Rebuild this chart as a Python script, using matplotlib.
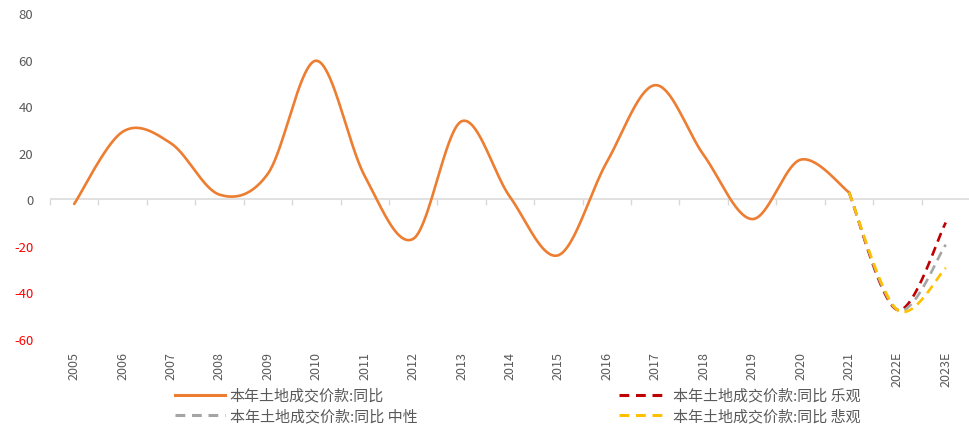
import numpy as np
import matplotlib
matplotlib.use("Agg")
import matplotlib.pyplot as plt
from matplotlib.lines import Line2D

plt.rcParams['font.family'] = ['Noto Sans CJK SC', 'DejaVu Sans']

years = ['2005', '2006', '2007', '2008', '2009', '2010', '2011', '2012', '2013',
         '2014', '2015', '2016', '2017', '2018', '2019', '2020', '2021', '2022E', '2023E']
actual = [-2, 29, 24, 2, 11, 59.5, 10, -17, 33.5, 1, -24, 16, 49, 19, -8.5, 17, 3]
scen_years = ['2021', '2022E', '2023E']
optimistic = [3, -47.5, -10]
neutral = [3, -47.5, -19.5]
pessimistic = [3, -47.5, -29.5]

names = ['本年土地成交价款:同比', '本年土地成交价款:同比 乐观',
         '本年土地成交价款:同比 中性', '本年土地成交价款:同比 悲观']
c_orange, c_red, c_gray, c_yellow = '#ED7D31', '#C00000', '#A5A5A5', '#FFC000'


def smooth(xs, ys, n=40, t=1/6):
    xs = np.asarray(xs, float); ys = np.asarray(ys, float)
    P = np.column_stack([xs, ys])
    out = []
    for i in range(len(P) - 1):
        p0 = P[i - 1] if i > 0 else P[i]
        p1 = P[i]; p2 = P[i + 1]
        p3 = P[i + 2] if i + 2 < len(P) else P[i + 1]
        c1 = p1 + (p2 - p0) * t
        c2 = p2 - (p3 - p1) * t
        s = np.linspace(0, 1, n)[:, None]
        seg = (1 - s) ** 3 * p1 + 3 * (1 - s) ** 2 * s * c1 + 3 * (1 - s) * s ** 2 * c2 + s ** 3 * p2
        out.append(seg if i == 0 else seg[1:])
    a = np.vstack(out)
    return a[:, 0], a[:, 1]


fig = plt.figure(figsize=(9.70, 4.27), dpi=100)
ax = fig.add_axes([50 / 970, 1 - 340 / 427, 920 / 970, (340 - 14) / 427])

xi = np.arange(len(years))
pos = {y: i for i, y in enumerate(years)}

lw = 1.9
sx, sy = smooth(xi[:len(actual)], actual)
ax.plot(sx, sy, color=c_orange, lw=lw, solid_capstyle='round', zorder=3)

sxi = [pos[y] for y in scen_years]
for vals, col in [(optimistic, c_red), (neutral, c_gray), (pessimistic, c_yellow)]:
    px, py = smooth(sxi, vals)
    ax.plot(px, py, color=col, lw=lw, dashes=(3.5, 2.2), zorder=4)

ax.set_xlim(-0.5, len(years) - 0.5)
ax.set_ylim(-60, 80)
ax.set_yticks(np.arange(-60, 81, 20))
ax.set_yticklabels([str(v) for v in np.arange(-60, 81, 20)])
for lab, v in zip(ax.get_yticklabels(), np.arange(-60, 81, 20)):
    lab.set_color('#FF0000' if v < 0 else '#595959')
ax.tick_params(axis='y', length=0, pad=12, labelsize=9.5)

ax.set_xticks(xi)
ax.set_xticklabels(years, rotation=90, color='#595959', fontsize=9)
ax.tick_params(axis='x', length=0, pad=8.5)

for s in ax.spines.values():
    s.set_visible(False)

ax.axhline(0, color='#D9D9D9', lw=1.1, zorder=1)
sec = ax.secondary_xaxis(60 / 140)
sec.set_xticks(np.arange(-0.5, len(years), 1.0))
sec.tick_params(axis='x', length=4, width=1, color='#D9D9D9', labelbottom=False, labeltop=False)
sec.spines['bottom'].set_visible(False)
sec.spines['top'].set_visible(False)

handles = [
    Line2D([], [], color=c_orange, lw=2.2),
    Line2D([], [], color=c_gray, lw=2.2, dashes=(3.2, 2.2)),
    Line2D([], [], color=c_red, lw=2.2, dashes=(3.2, 2.2)),
    Line2D([], [], color=c_yellow, lw=2.2, dashes=(3.2, 2.2)),
]
labels = [names[0], names[2], names[1], names[3]]
leg = fig.legend(handles, labels, ncol=2, loc='upper left',
                 bbox_to_anchor=(175 / 970, 1 - 389 / 427), frameon=False,
                 borderpad=0, borderaxespad=0, handlelength=3.33, handletextpad=0.33,
                 columnspacing=13.4, labelspacing=0.36, fontsize=10.8)
for t in leg.get_texts():
    t.set_color('#595959')

fig.savefig('out.png', dpi=100)
